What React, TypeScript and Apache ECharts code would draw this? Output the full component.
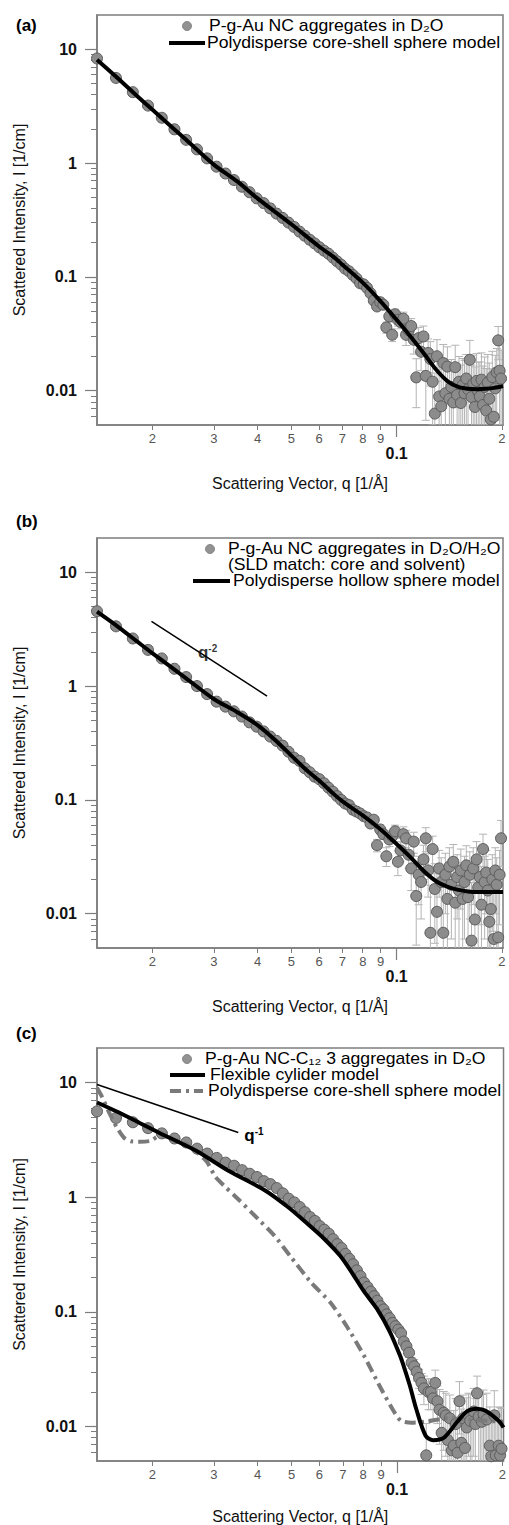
import React, { useEffect, useRef } from "react";
import * as echarts from "echarts";

// ---------- data (q in 1/Å, I in 1/cm) ----------
const qGrid = [
  0.0139, 0.01575, 0.0176, 0.01945, 0.0213, 0.02315, 0.025, 0.02685, 0.0287, 0.03055,
  0.0324, 0.03425, 0.0361, 0.03795, 0.0398, 0.04165, 0.0435, 0.04535, 0.0472, 0.04905,
  0.0509, 0.05275, 0.0546, 0.05645, 0.0583, 0.06015, 0.062, 0.06385, 0.0657, 0.06755,
  0.0694, 0.07125, 0.0731, 0.07495, 0.0768, 0.07865, 0.0805, 0.08235, 0.0842, 0.08605,
  0.0879, 0.08975, 0.0916, 0.09345, 0.0953, 0.09715, 0.099, 0.10085, 0.1027, 0.10455,
  0.1064, 0.10825, 0.1101, 0.11195, 0.1138, 0.11565, 0.1175, 0.11935, 0.1212, 0.12305,
  0.1249, 0.12675, 0.1286, 0.13045, 0.1323, 0.13415, 0.136, 0.13785, 0.1397, 0.14155,
  0.1434, 0.14525, 0.1471, 0.14895, 0.1508, 0.15265, 0.1545, 0.15635, 0.1582, 0.16005,
  0.1619, 0.16375, 0.1656, 0.16745, 0.1693, 0.17115, 0.173, 0.17485, 0.1767, 0.17855,
  0.1804, 0.18225, 0.1841, 0.18595, 0.1878, 0.18965, 0.1915, 0.19335, 0.1952, 0.19705,
  0.1989,
];

// (a) P-g-Au NC aggregates in D2O
const intensityA = [
  8.3, 5.6, 4.2, 3.2, 2.5, 1.98, 1.6, 1.32, 1.1, 0.93,
  0.81, 0.71, 0.62, 0.555, 0.49, 0.445, 0.4, 0.36, 0.33, 0.3,
  0.275, 0.25, 0.23, 0.212, 0.197, 0.182, 0.17, 0.16, 0.148, 0.137,
  0.128, 0.118, 0.112, 0.104, 0.097, 0.088, 0.086, 0.08, 0.072, 0.062,
  0.055, 0.06, 0.057, 0.036, 0.045, 0.031, 0.047, 0.042, 0.04, 0.043,
  0.031, 0.034, 0.037, 0.028, 0.0131, 0.029, 0.022, 0.03, 0.0135, 0.0215,
  0.019, 0.012, 0.0063, 0.0201, 0.0089, 0.0073, 0.0175, 0.0095, 0.0163, 0.0085,
  0.0108, 0.0079, 0.0161, 0.0092, 0.012, 0.0078, 0.0112, 0.0095, 0.0128, 0.0103,
  0.0187, 0.0088, 0.0115, 0.0072, 0.0122, 0.0098, 0.0089, 0.0125, 0.0075, 0.0108,
  0.0067, 0.0118, 0.0085, 0.0056, 0.0132, 0.0059, 0.0105, 0.0145, 0.0277, 0.015,
  0.0128,
];
const errorA = [
  0, 0, 0, 0, 0, 0, 0, 0, 0, 0,
  0, 0, 0, 0, 0, 0, 0, 0, 0, 0,
  0, 0, 0, 0, 0, 0, 0, 0, 0, 0,
  0, 0, 0, 0, 0, 0, 0, 0, 0.003, 0.003,
  0.004, 0.004, 0.004, 0.004, 0.005, 0.004, 0.005, 0.005, 0.005, 0.006,
  0.006, 0.006, 0.006, 0.007, 0.006, 0.007, 0.007, 0.007, 0.008, 0.007,
  0.008, 0.007, 0.008, 0.008, 0.007, 0.008, 0.008, 0.008, 0.008, 0.008,
  0.008, 0.008, 0.009, 0.008, 0.008, 0.009, 0.008, 0.009, 0.008, 0.009,
  0.009, 0.008, 0.009, 0.009, 0.009, 0.008, 0.009, 0.009, 0.009, 0.009,
  0.009, 0.009, 0.009, 0.01, 0.009, 0.009, 0.01, 0.009, 0.009, 0.01,
  0.01,
];
const modelQA = [0.0139, 0.016, 0.018, 0.02, 0.025, 0.03, 0.035, 0.04, 0.05, 0.06, 0.066, 0.07, 0.08, 0.09, 0.1, 0.11, 0.12, 0.13, 0.14, 0.15, 0.16, 0.17, 0.18, 0.19, 0.2015];
const modelIA = [8.1, 5.5, 3.95, 2.95, 1.6, 0.97, 0.69, 0.49, 0.29, 0.185, 0.15, 0.128, 0.089, 0.061, 0.042, 0.0295, 0.021, 0.0152, 0.0121, 0.0108, 0.0104, 0.0103, 0.0104, 0.0106, 0.011];

// (b) P-g-Au NC aggregates in D2O/H2O
const intensityB = [
  4.55, 3.35, 2.62, 2.08, 1.75, 1.42, 1.2, 1.0, 0.85, 0.73,
  0.66, 0.6, 0.54, 0.48, 0.44, 0.4, 0.36, 0.33, 0.3, 0.265,
  0.235, 0.22, 0.19, 0.175, 0.16, 0.152, 0.14, 0.128, 0.118, 0.108,
  0.1, 0.093, 0.09, 0.082, 0.079, 0.076, 0.072, 0.07, 0.062, 0.067,
  0.04, 0.055, 0.05, 0.032, 0.045, 0.048, 0.053, 0.0286, 0.036, 0.05,
  0.046, 0.033, 0.025, 0.043, 0.0143, 0.022, 0.019, 0.03, 0.046, 0.024,
  0.0068, 0.037, 0.0165, 0.0104, 0.025, 0.019, 0.0068, 0.022, 0.0135, 0.026,
  0.018, 0.0286, 0.0125, 0.021, 0.016, 0.024, 0.0135, 0.019, 0.0266, 0.014,
  0.022, 0.0058, 0.025, 0.0089, 0.03, 0.017, 0.021, 0.012, 0.037, 0.019,
  0.023, 0.016, 0.0085, 0.011, 0.02, 0.006, 0.024, 0.018, 0.0062, 0.022,
  0.046,
];
const errorB = [
  0, 0, 0, 0, 0, 0, 0, 0, 0, 0,
  0, 0, 0, 0, 0, 0, 0, 0, 0, 0,
  0, 0, 0, 0, 0, 0, 0, 0, 0, 0,
  0, 0, 0, 0, 0, 0, 0, 0, 0.004, 0.004,
  0.005, 0.005, 0.005, 0.006, 0.006, 0.006, 0.007, 0.007, 0.007, 0.008,
  0.008, 0.008, 0.009, 0.009, 0.009, 0.01, 0.01, 0.01, 0.011, 0.01,
  0.011, 0.011, 0.011, 0.012, 0.011, 0.012, 0.012, 0.012, 0.011, 0.012,
  0.012, 0.012, 0.013, 0.012, 0.012, 0.013, 0.012, 0.013, 0.013, 0.012,
  0.013, 0.013, 0.013, 0.012, 0.013, 0.013, 0.013, 0.014, 0.013, 0.013,
  0.013, 0.014, 0.013, 0.014, 0.013, 0.014, 0.014, 0.013, 0.014, 0.014,
  0.02,
];
const modelQB = [0.0139, 0.016, 0.018, 0.02, 0.025, 0.03, 0.035, 0.04, 0.045, 0.05, 0.055, 0.06, 0.065, 0.07, 0.08, 0.09, 0.1, 0.11, 0.12, 0.13, 0.14, 0.15, 0.16, 0.17, 0.18, 0.19, 0.2015];
const modelIB = [4.5, 3.3, 2.5, 1.95, 1.17, 0.77, 0.59, 0.455, 0.335, 0.245, 0.185, 0.148, 0.118, 0.097, 0.073, 0.055, 0.041, 0.031, 0.0235, 0.0192, 0.0172, 0.0162, 0.0157, 0.0155, 0.0155, 0.0155, 0.0155];
const slopeQB = [0.0199, 0.0426];
const slopeIB = [3.71, 0.817];
const slopeLabelB = [0.0288, 1.99];

// (c) P-g-Au NC-C12 3 aggregates in D2O
const intensityC = [
  5.6, 4.9, 4.5, 4.0, 3.6, 3.25, 3.0, 2.65, 2.4, 2.2,
  2.0, 1.88, 1.72, 1.6, 1.5, 1.38, 1.3, 1.2, 1.08, 0.97,
  0.9, 0.82, 0.74, 0.67, 0.62, 0.56, 0.52, 0.48, 0.43, 0.39,
  0.36, 0.32, 0.29, 0.26, 0.23, 0.205, 0.18, 0.165, 0.15, 0.137,
  0.125, 0.112, 0.105, 0.095, 0.088, 0.08, 0.075, 0.07, 0.065, 0.055,
  0.05, 0.044, 0.036, 0.0335, 0.03, 0.0265, 0.024, 0.0215, 0.0056, 0.02,
  0.02, 0.0176, 0.024, 0.0166, 0.014, 0.0088, 0.0132, 0.0125, 0.0076, 0.0118,
  0.0062, 0.0068, 0.0105, 0.0059, 0.0166, 0.0072, 0.0118, 0.0065, 0.0098, 0.0125,
  0.0112, 0.0048, 0.0135, 0.0105, 0.0195, 0.0122, 0.0045, 0.011, 0.0128, 0.0044,
  0.0115, 0.0042, 0.0068, 0.0055, 0.0047, 0.0125, 0.0056, 0.0043, 0.0068, 0.0056,
  0.0064,
];
const errorC = [
  0, 0, 0, 0, 0, 0, 0, 0, 0, 0,
  0, 0, 0, 0, 0, 0, 0, 0, 0, 0,
  0, 0, 0, 0, 0, 0, 0, 0, 0, 0,
  0, 0, 0, 0, 0, 0, 0, 0, 0, 0,
  0, 0, 0, 0, 0, 0.002, 0.002, 0.003, 0.003, 0.003,
  0.004, 0.004, 0.004, 0.005, 0.005, 0.005, 0.005, 0.006, 0.005, 0.006,
  0.006, 0.006, 0.007, 0.006, 0.007, 0.006, 0.007, 0.007, 0.006, 0.007,
  0.006, 0.007, 0.007, 0.006, 0.008, 0.007, 0.007, 0.007, 0.008, 0.007,
  0.008, 0.007, 0.008, 0.007, 0.008, 0.008, 0.007, 0.008, 0.008, 0.007,
  0.008, 0.008, 0.008, 0.007, 0.008, 0.008, 0.008, 0.008, 0.008, 0.009,
  0.008,
];
const cylinderQC = [0.0139, 0.016, 0.018, 0.0209, 0.0266, 0.033, 0.0419, 0.0488, 0.0557, 0.0621, 0.0687, 0.0736, 0.0803, 0.0877, 0.0954, 0.1022, 0.1047, 0.1088, 0.1135, 0.1207, 0.1268, 0.1362, 0.149, 0.1588, 0.1692, 0.18, 0.1957, 0.2015];
const cylinderIC = [6.7, 5.5, 4.6, 3.65, 2.55, 1.7, 1.15, 0.82, 0.58, 0.43, 0.31, 0.23, 0.152, 0.106, 0.067, 0.041, 0.033, 0.0228, 0.0142, 0.0083, 0.0076, 0.008, 0.0111, 0.0136, 0.0143, 0.0136, 0.0111, 0.0098];
const sphereQC = [0.0139, 0.0144, 0.015, 0.0158, 0.0166, 0.0174, 0.0185, 0.0198, 0.0206, 0.0215, 0.0232, 0.025, 0.0265, 0.0286, 0.0303, 0.0324, 0.0352, 0.0402, 0.0447, 0.0498, 0.0567, 0.0646, 0.0722, 0.0803, 0.0896, 0.098, 0.1026, 0.11, 0.12, 0.14, 0.16, 0.18, 0.2015];
const sphereIC = [9.0, 7.4, 5.6, 4.1, 3.3, 3.07, 3.05, 3.1, 3.35, 3.4, 3.2, 2.9, 2.55, 2.05, 1.5, 1.22, 0.96, 0.64, 0.46, 0.3, 0.182, 0.12, 0.073, 0.042, 0.022, 0.0135, 0.0112, 0.0108, 0.011, 0.0118, 0.0115, 0.0112, 0.011];
const slopeQC = [0.0139, 0.0352];
const slopeIC = [9.6, 3.67];

// ticks
const xMinorTicks = [0.02, 0.03, 0.04, 0.05, 0.06, 0.07, 0.08, 0.09, 0.2];
const xMinorLabels = ["2", "3", "4", "5", "6", "7", "8", "9", "2"];
const xMajorTicks = [0.1];
const xMajorLabels = ["0.1"];
const yMajorTicks = [0.01, 0.1, 1, 10];
const yMajorLabels = ["0.01", "0.1", "1", "10"];
const yMinorTicks = [
  0.006, 0.007, 0.008, 0.009,
  0.02, 0.03, 0.04, 0.05, 0.06, 0.07, 0.08, 0.09,
  0.2, 0.3, 0.4, 0.5, 0.6, 0.7, 0.8, 0.9,
  2, 3, 4, 5, 6, 7, 8, 9,
];

// ---------- style / layout ----------
const FONT = "'Liberation Sans', Arial, Helvetica, sans-serif";
const AXIS_GRAY = "#7d7d7d";
const L = (v: number) => Math.log10(v);
const X_MIN = L(0.0139);
const X_MAX = L(0.2015);
const Y_MIN = L(0.005);
const Y_MAX = L(20);

const GRIDS = [
  { left: 97, top: 15, width: 406, height: 410 },
  { left: 97, top: 538, width: 406, height: 410 },
  { left: 97, top: 1048, width: 410, height: 415 },
];
const X_NAME_GAP = [50, 50, 47];

const labelFor = (ticks: number[], labels: string[]) => (v: number) => {
  const i = ticks.findIndex((t) => Math.abs(L(t) - v) < 1e-6);
  return i >= 0 ? labels[i] : "";
};

function pairs(qs: number[], is: number[]) {
  return qs.map((q, i) => [L(q), L(is[i])]);
}

function errorData(intens: number[], errs: number[]) {
  const out: number[][] = [];
  qGrid.forEach((q, i) => {
    const e = errs[i];
    if (!e) return;
    const lo = intens[i] - e;
    out.push([L(q), L(intens[i]), lo > 0 ? L(lo) : L(0.0005), L(intens[i] + e)]);
  });
  return out;
}

const errorRender = (params: any, api: any) => {
  const x = api.value(0);
  const top = api.coord([x, api.value(3)]);
  const bot = api.coord([x, api.value(2)]);
  const st = { stroke: "#b4b4b4", lineWidth: 1 };
  const c = 4;
  return {
    type: "group",
    children: [
      { type: "line", shape: { x1: top[0], y1: top[1], x2: bot[0], y2: bot[1] }, style: st },
      { type: "line", shape: { x1: top[0] - c, y1: top[1], x2: top[0] + c, y2: top[1] }, style: st },
      { type: "line", shape: { x1: bot[0] - c, y1: bot[1], x2: bot[0] + c, y2: bot[1] }, style: st },
    ],
  };
};

const supRich = {
  q: { fontSize: 17, fontWeight: "bold", color: "#000", fontFamily: FONT },
  s: { fontSize: 10, fontWeight: "bold", color: "#000", fontFamily: FONT, verticalAlign: "top", padding: [0, 0, 6, 0] },
};

function buildOption() {
  const xAxis: any[] = [];
  const yAxis: any[] = [];
  GRIDS.forEach((g, p) => {
    xAxis.push({
      gridIndex: p, type: "value", position: "bottom", min: X_MIN, max: X_MAX,
      axisLine: { show: true, onZero: false, lineStyle: { color: AXIS_GRAY, width: 1.5 } },
      axisTick: { show: true, customValues: xMinorTicks.map(L), length: 5, lineStyle: { color: AXIS_GRAY, width: 1 } },
      axisLabel: {
        customValues: xMinorTicks.map(L), formatter: labelFor(xMinorTicks, xMinorLabels),
        margin: 7, color: "#555", fontSize: 13, fontFamily: FONT,
        showMinLabel: true, showMaxLabel: true,
      },
      splitLine: { show: false },
    });
    xAxis.push({
      gridIndex: p, type: "value", position: "bottom", min: X_MIN, max: X_MAX,
      axisLine: { show: false, onZero: false },
      axisTick: { show: true, customValues: xMajorTicks.map(L), length: 12, lineStyle: { color: AXIS_GRAY, width: 1.2 } },
      axisLabel: {
        customValues: xMajorTicks.map(L), formatter: labelFor(xMajorTicks, xMajorLabels),
        margin: 20, color: "#111", fontSize: 16, fontWeight: "bold", fontFamily: FONT,
      },
      splitLine: { show: false },
      name: "Scattering Vector, q [1/Å]",
      nameLocation: "middle",
      nameGap: X_NAME_GAP[p],
      nameTextStyle: { fontSize: 16, color: "#111", fontFamily: FONT },
    });
    yAxis.push({
      gridIndex: p, type: "value", position: "left", min: Y_MIN, max: Y_MAX,
      axisLine: { show: true, onZero: false, lineStyle: { color: AXIS_GRAY, width: 1.5 } },
      axisTick: { show: true, customValues: yMajorTicks.map(L), length: 12, lineStyle: { color: AXIS_GRAY, width: 1.2 } },
      axisLabel: {
        customValues: yMajorTicks.map(L), formatter: labelFor(yMajorTicks, yMajorLabels),
        margin: 20, color: "#111", fontSize: 16, fontWeight: "bold", fontFamily: FONT,
      },
      splitLine: { show: false },
      name: "Scattered Intensity, I [1/cm]",
      nameLocation: "middle",
      nameRotate: 90,
      nameGap: 70,
      nameTextStyle: { fontSize: 16, color: "#111", fontFamily: FONT },
    });
    yAxis.push({
      gridIndex: p, type: "value", position: "left", min: Y_MIN, max: Y_MAX,
      axisLine: { show: false, onZero: false },
      axisTick: { show: true, customValues: yMinorTicks.map(L), length: 6, lineStyle: { color: AXIS_GRAY, width: 1 } },
      axisLabel: { show: false },
      splitLine: { show: false },
    });
  });

  const dataSets = [
    { I: intensityA, E: errorA },
    { I: intensityB, E: errorB },
    { I: intensityC, E: errorC },
  ];
  const series: any[] = [];
  dataSets.forEach((d, p) => {
    const ax = { xAxisIndex: 2 * p + 1, yAxisIndex: 2 * p };
    series.push({
      type: "custom", ...ax, clip: true, z: 1, silent: true,
      renderItem: errorRender, data: errorData(d.I, d.E),
    });
    series.push({
      type: "scatter", ...ax, z: 2, symbol: "circle", symbolSize: 11,
      itemStyle: { color: "#8c8c8c", borderColor: "#5c5c5c", borderWidth: 1, opacity: 1 },
      data: pairs(qGrid, d.I),
    });
  });

  const lineBase = { type: "line", showSymbol: false, symbol: "none", z: 4, silent: true };
  series.push({ ...lineBase, xAxisIndex: 1, yAxisIndex: 0, smooth: 0.3, lineStyle: { color: "#000", width: 4 }, data: pairs(modelQA, modelIA) });
  series.push({ ...lineBase, xAxisIndex: 3, yAxisIndex: 2, smooth: 0.3, lineStyle: { color: "#000", width: 4 }, data: pairs(modelQB, modelIB) });
  series.push({ ...lineBase, xAxisIndex: 3, yAxisIndex: 2, lineStyle: { color: "#000", width: 1.5 }, data: pairs(slopeQB, slopeIB) });
  series.push({
    type: "scatter", xAxisIndex: 3, yAxisIndex: 2, z: 5, symbol: "circle", symbolSize: 2, silent: true,
    itemStyle: { color: "rgba(0,0,0,0)" },
    label: { show: true, position: "inside", formatter: "{q|q}{s|-2}", rich: supRich },
    data: [[L(slopeLabelB[0]), L(slopeLabelB[1])]],
  });
  series.push({ ...lineBase, xAxisIndex: 5, yAxisIndex: 4, smooth: 0.2, z: 3, lineStyle: { color: "#7a7a7a", width: 4, type: [11, 5, 3, 5] }, data: pairs(sphereQC, sphereIC) });
  series.push({ ...lineBase, xAxisIndex: 5, yAxisIndex: 4, smooth: 0.3, lineStyle: { color: "#000", width: 4 }, data: pairs(cylinderQC, cylinderIC) });
  series.push({
    ...lineBase, xAxisIndex: 5, yAxisIndex: 4, lineStyle: { color: "#000", width: 1.5 },
    data: pairs(slopeQC, slopeIC),
    endLabel: { show: true, distance: 6, offset: [0, 3], formatter: "{q|q}{s|-1}", rich: supRich },
  });

  const txt = (text: string, x: number, y: number, extra: any = {}, sx = 1.1) => ({
    type: "text", z: 10, x, y, scaleX: sx,
    style: {
      text, x: 0, y: 0, fill: "#000", fontSize: 16, fontFamily: FONT,
      align: "left", verticalAlign: "middle", textAlign: "left", textVerticalAlign: "middle", ...extra,
    },
  });
  const dot = (x: number, y: number) => ({ type: "circle", z: 10, shape: { cx: x, cy: y, r: 4.5 }, style: { fill: "#929292", stroke: "#7a7a7a", lineWidth: 0.8 } });
  const seg = (x1: number, x2: number, y: number, extra: any = {}) => ({
    type: "line", z: 10, shape: { x1, y1: y, x2, y2: y }, style: { stroke: "#000", lineWidth: 4, ...extra },
  });
  const panelLabel = (t: string, y: number) => txt(t, 16, y, { fontWeight: "bold", fontSize: 17 }, 1);

  const graphic = [
    panelLabel("(a)", 25),
    dot(187, 26), txt("P-g-Au NC aggregates in D₂O", 209, 26),
    seg(169, 205, 43), txt("Polydisperse core-shell sphere model", 207, 43),

    panelLabel("(b)", 521),
    dot(210, 549), txt("P-g-Au NC aggregates in D₂O/H₂O", 228, 549),
    txt("(SLD match: core and solvent)", 228, 565),
    seg(193, 230, 581), txt("Polydisperse hollow sphere model", 233, 581),

    panelLabel("(c)", 1033),
    dot(187, 1059), txt("P-g-Au NC-C₁₂ 3 aggregates in D₂O", 205, 1059),
    seg(170, 205, 1075), txt("Flexible cylider model", 210, 1075),
    seg(170, 203, 1091, { stroke: "#7a7a7a", lineDash: [11, 5, 3, 5] }), txt("Polydisperse core-shell sphere model", 208, 1091),
  ];

  return {
    animation: false,
    backgroundColor: "#fff",
    textStyle: { fontFamily: FONT },
    grid: GRIDS.map((g) => ({ ...g, show: true, borderColor: AXIS_GRAY, borderWidth: 1.5, backgroundColor: "transparent", containLabel: false })),
    xAxis,
    yAxis,
    series,
    graphic,
  };
}

export default function App() {
  const ref = useRef<HTMLDivElement>(null);
  useEffect(() => {
    if (!ref.current) return;
    const chart = echarts.init(ref.current, undefined, { renderer: "svg" });
    chart.setOption(buildOption() as any);
    return () => chart.dispose();
  }, []);
  return (
    <div
      ref={ref}
      style={{ position: "absolute", left: 0, top: 0, width: 509, height: 1525, background: "#fff" }}
    />
  );
}
